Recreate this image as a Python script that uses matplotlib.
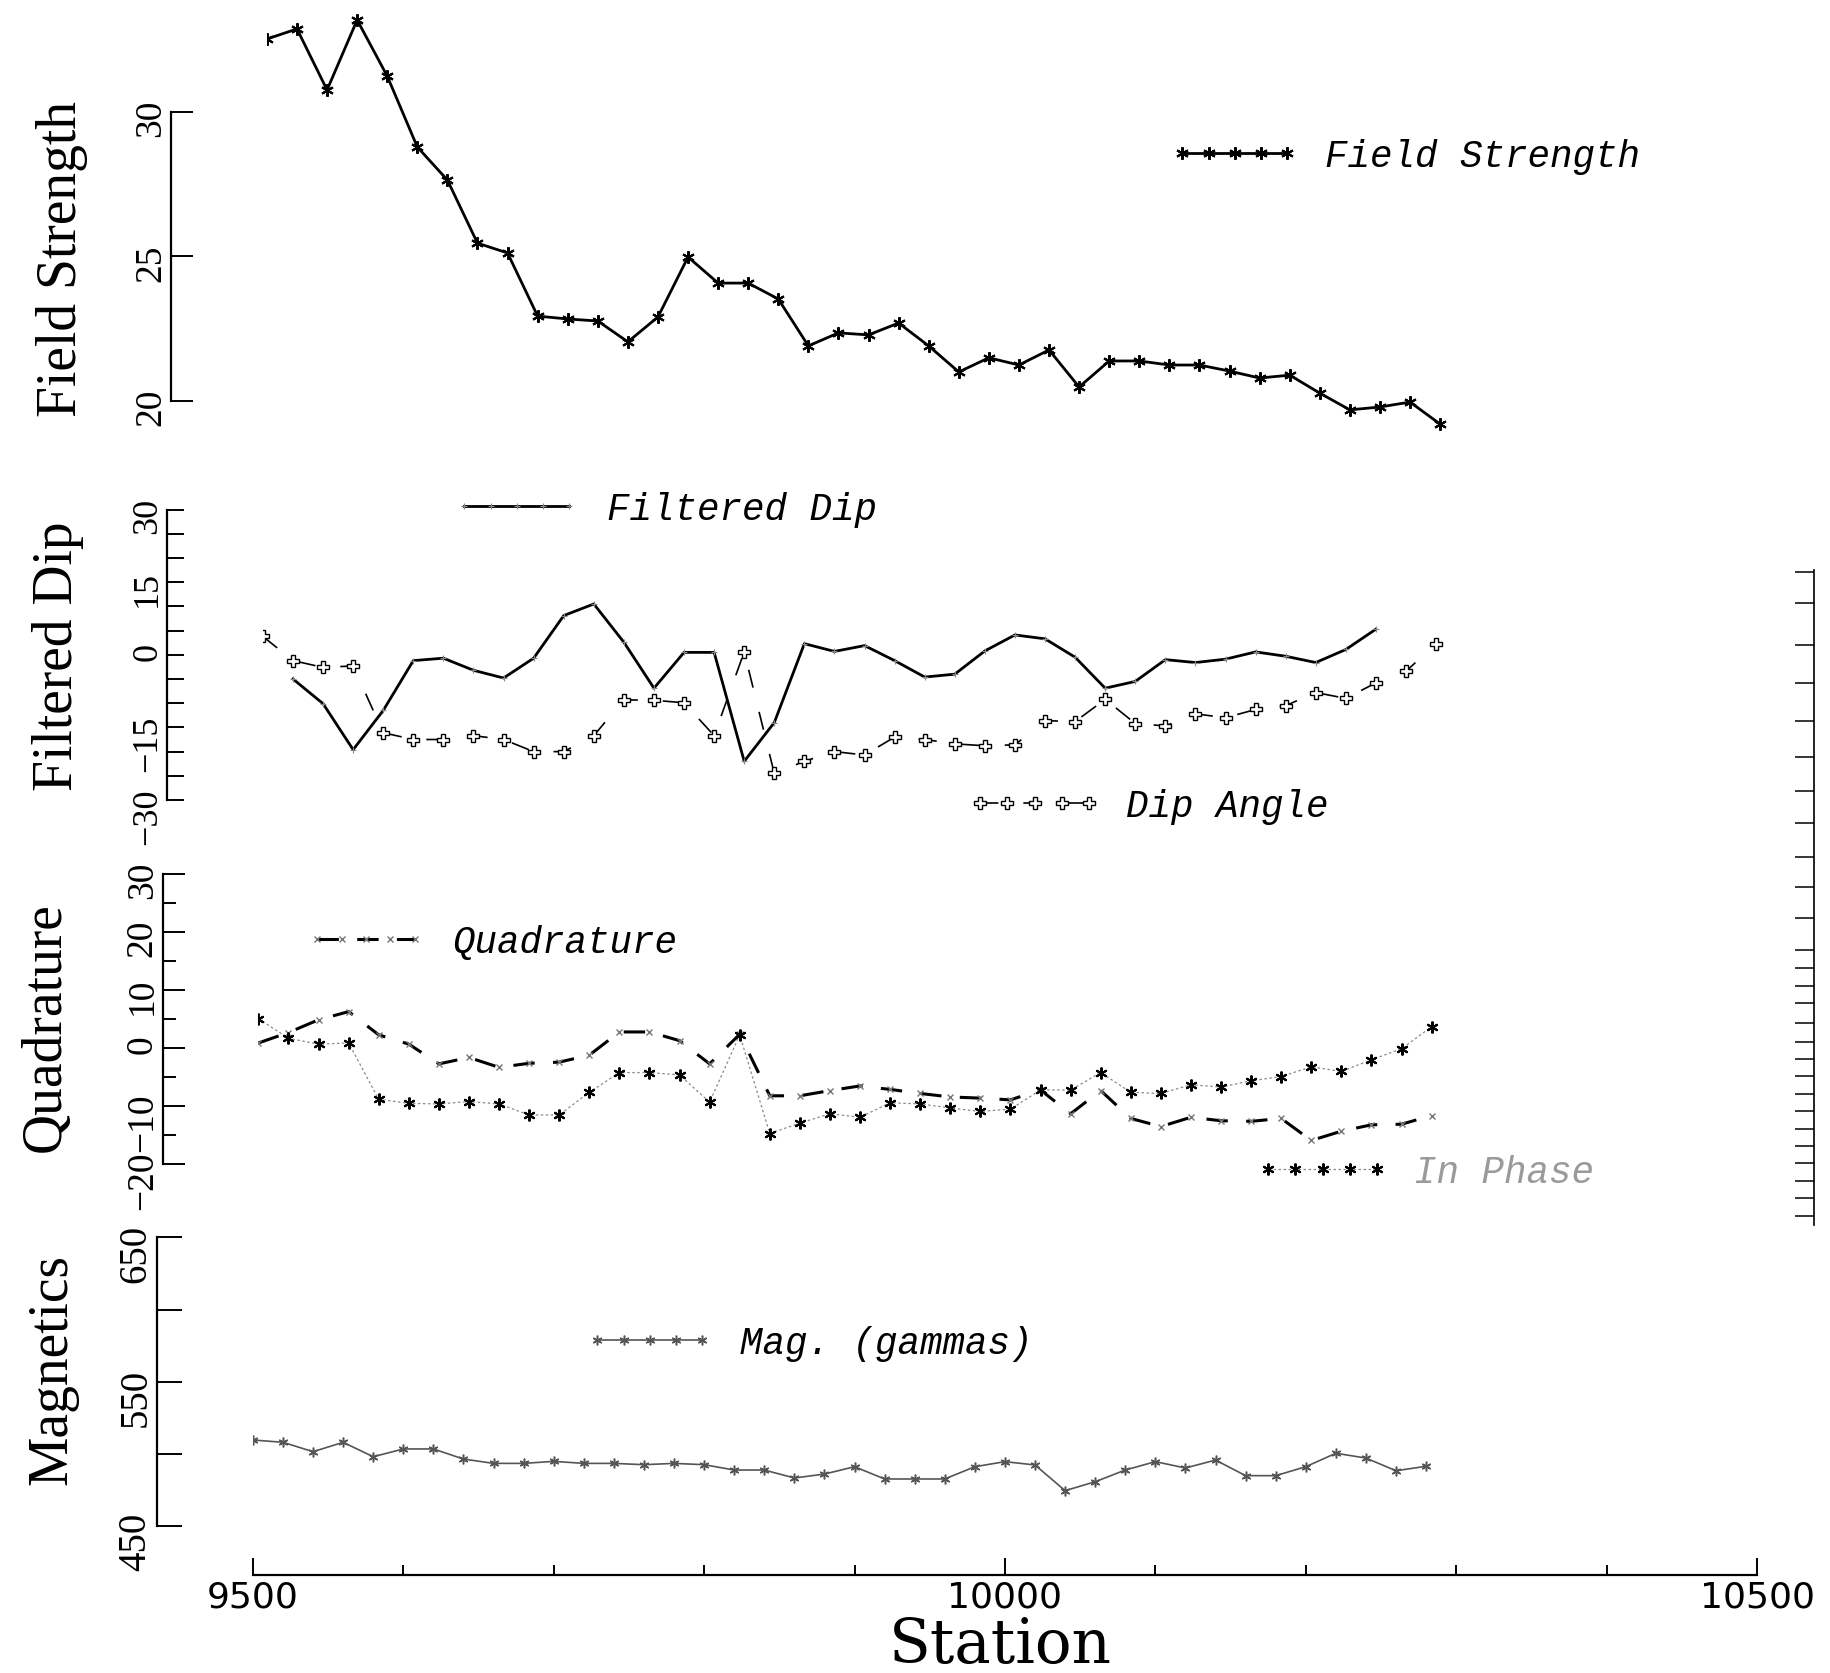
import numpy as np
import matplotlib
matplotlib.use("Agg")
import matplotlib.pyplot as plt
from matplotlib.ticker import MultipleLocator, FixedLocator

# ---- data (stations every 20 from 9500) ----
stations = np.arange(9500, 10300, 20)

field_strength = [32.51, 32.86, 30.75, 33.17, 31.23, 28.78, 27.64, 25.46, 25.12, 22.94,
                  22.84, 22.77, 22.05, 22.91, 24.98, 24.08, 24.08, 23.53, 21.91, 22.36,
                  22.29, 22.70, 21.91, 21.01, 21.50, 21.25, 21.77, 20.49, 21.39, 21.39,
                  21.25, 21.25, 21.04, 20.80, 20.90, 20.28, 19.70, 19.80, 19.97, 19.21]

# Fraser-filtered dip sits at stations 9520..10240
filtered_stations = stations[1:38]
filtered_dip = [-5.0, -10.1, -19.6, -11.5, -1.2, -0.7, -3.2, -4.8, -0.7, 8.1,
                10.5, 2.6, -6.9, 0.5, 0.5, -22.0, -14.0, 2.3, 0.7, 1.9,
                -1.2, -4.6, -4.0, 0.8, 4.1, 3.3, -0.5, -6.9, -5.5, -1.0,
                -1.6, -0.9, 0.6, -0.3, -1.6, 1.1, 5.3]

dip_angle = [3.8, -1.2, -2.6, -2.3, -16.1, -17.5, -17.5, -16.7, -17.5, -20.0,
             -20.0, -16.7, -9.3, -9.4, -9.9, -16.7, 0.6, -24.5, -22.0, -20.0,
             -20.7, -17.0, -17.5, -18.4, -18.8, -18.6, -13.6, -13.8, -9.2, -14.2,
             -14.7, -12.2, -13.0, -11.3, -10.5, -7.8, -9.0, -5.8, -3.4, 2.3]

quadrature = [0.8, 2.6, 4.8, 6.2, 2.2, 0.6, -2.8, -1.7, -3.4, -2.7,
              -2.5, -1.3, 2.7, 2.7, 1.2, -2.8, 2.3, -8.3, -8.3, -7.4,
              -6.6, -7.2, -7.9, -8.5, -8.7, -9.0, -7.3, -11.4, -7.4, -12.2,
              -13.6, -12.0, -12.6, -12.7, -12.2, -16.0, -14.4, -13.3, -13.2, -11.7]

in_phase = [5.0, 1.6, 0.6, 0.8, -8.9, -9.6, -9.7, -9.3, -9.7, -11.6,
            -11.6, -7.7, -4.3, -4.3, -4.7, -9.4, 2.2, -14.8, -13.0, -11.4,
            -12.0, -9.5, -9.7, -10.4, -11.0, -10.6, -7.3, -7.3, -4.3, -7.7,
            -7.9, -6.4, -6.8, -5.7, -5.0, -3.3, -4.1, -2.1, -0.2, 3.6]

magnetics = [509.7, 508.1, 501.6, 508.1, 498.1, 503.5, 503.5, 496.5, 493.5, 493.5,
             494.9, 493.5, 493.5, 492.6, 493.5, 492.6, 488.9, 488.9, 483.4, 486.1,
             491.2, 482.7, 482.7, 482.7, 491.2, 494.7, 492.4, 474.6, 480.8, 488.9,
             494.7, 490.3, 495.8, 485.0, 485.0, 491.2, 500.5, 497.2, 488.4, 491.5]

x_ticks_major = [9500, 10000, 10500]
mag_ticks_major = [450, 550, 650]
ruler_marks = [490, 516, 553, 585, 618, 649, 678, 706, 735, 761, 788, 815, 831, 846,
               861, 878, 894, 909, 924, 939, 954, 969, 984, 999, 1014, 1029, 1044]

# ---- layout (pixels of the 1830x1674 canvas) ----
W, H = 1830, 1674
X0, XSPAN = 252.9, 1504.1
serif = "Liberation Serif"
star = (6, 2, 0)

fig = plt.figure(figsize=(W / 100, H / 100), dpi=100)


def panel(shift, ylim, cal, labelsize=27):
    (v1, y1), (v2, y2) = cal
    k = (y2 - y1) / (v2 - v1)
    top = y1 + (ylim[1] - v1) * k
    bot = y1 + (ylim[0] - v1) * k
    ax = fig.add_axes([(X0 + shift) / W, 1 - bot / H, XSPAN / W, (bot - top) / H])
    ax.set_xlim(9500, 10500)
    ax.set_ylim(*ylim)
    ax.patch.set_alpha(0)
    for s in ("top", "right"):
        ax.spines[s].set_visible(False)
    ax.spines["left"].set_position(("outward", 69))
    ax.spines["left"].set_linewidth(1.6)
    ax.tick_params(axis="y", which="both", direction="in", width=1.4,
                   labelrotation=90, labelsize=labelsize, pad=2)
    return ax


def label(ax, text, x, y):
    ax.set_ylabel(text, family=serif, fontsize=40)
    ax.yaxis.set_label_coords(x / W, 1 - y / H, transform=fig.transFigure)


def legend(handle, text, x, y, hl, color="black"):
    lg = fig.legend(handles=[handle], labels=[text], loc="center left",
                    bbox_to_anchor=(x / W, 1 - y / H), frameon=False, numpoints=5,
                    handlelength=hl, handletextpad=0.7, borderpad=0, borderaxespad=0,
                    prop={"family": "Liberation Mono", "style": "italic", "size": 27})
    for t in lg.get_texts():
        t.set_color(color)


def no_x(ax):
    ax.spines["bottom"].set_visible(False)
    ax.tick_params(axis="x", which="both", bottom=False, labelbottom=False)


def serif_ticks(ax):
    for lab in ax.get_yticklabels():
        lab.set_family(serif)


# Field strength
ax1 = panel(14, (19, 33.6), ((30, 112.7), (20, 402.2)))
no_x(ax1)
ax1.spines["left"].set_bounds(20, 30)
ax1.yaxis.set_major_locator(FixedLocator([20, 25, 30]))
ax1.tick_params(axis="y", length=16)
fs_line, = ax1.plot(stations, field_strength, color="black", lw=2.0, marker=star,
                    ms=9, mew=1.5)
serif_ticks(ax1)
label(ax1, "Field Strength", 88, 259)
legend(fs_line, "Field Strength", 1171, 157, 3.4)

# Filtered dip / dip angle
ax2 = panel(10, (-31, 31), ((30, 510.6), (-30, 801.0)), labelsize=26)
no_x(ax2)
ax2.spines["left"].set_bounds(-30, 30)
ax2.yaxis.set_major_locator(FixedLocator([-30, -15, 0, 15, 30]))
ax2.yaxis.set_minor_locator(MultipleLocator(5))
ax2.tick_params(axis="y", which="both", length=12)
fd_line, = ax2.plot(filtered_stations, filtered_dip, color="black", lw=2.0,
                    marker="+", ms=4, mew=0.8, mec="#888888")
da_line, = ax2.plot(stations, dip_angle, color="black", lw=1.2, ls=(0, (11, 15)),
                    marker="P", ms=9, mfc="white", mec="black", mew=1.0)
serif_ticks(ax2)
label(ax2, "Filtered Dip", 84, 656)
legend(fd_line, "Filtered Dip", 453, 510, 3.4)
legend(da_line, "Dip Angle", 969, 807, 3.5)

# Quadrature / in phase
ax3 = panel(5.5, (-21, 31), ((30, 874.5), (-20, 1164.7)))
no_x(ax3)
ax3.spines["left"].set_bounds(-20, 30)
ax3.yaxis.set_major_locator(MultipleLocator(10))
ax3.yaxis.set_minor_locator(MultipleLocator(5))
ax3.tick_params(axis="y", which="major", length=16)
ax3.tick_params(axis="y", which="minor", length=9)
q_line, = ax3.plot(stations, quadrature, color="black", lw=2.2, ls=(0, (7, 6)),
                   marker="x", ms=5, mew=1.0, mec="#777777")
ip_line, = ax3.plot(stations, in_phase, color="#8a8a8a", lw=0.9, ls=(0, (2, 2)),
                    marker=star, ms=8.5, mew=1.5, mec="black")
serif_ticks(ax3)
label(ax3, "Quadrature", 72, 1027)
legend(q_line, "Quadrature", 306, 943, 3.2)
legend(ip_line, "In Phase", 1257, 1173, 3.5, color="#9a9a9a")

# Magnetics + station axis
ax4 = panel(0, (416, 655), ((650, 1238.4), (450, 1527.2)), labelsize=28)
ax4.spines["left"].set_bounds(450, 650)
ax4.spines["bottom"].set_linewidth(1.6)
ax4.yaxis.set_major_locator(FixedLocator(mag_ticks_major))
ax4.yaxis.set_minor_locator(MultipleLocator(50))
ax4.tick_params(axis="y", which="both", length=18)
mg_line, = ax4.plot(stations, magnetics, color="#555555", lw=1.2, marker=star,
                    ms=7, mew=1.1)
serif_ticks(ax4)
label(ax4, "Magnetics", 78, 1370)
legend(mg_line, "Mag. (gammas)", 586, 1344, 3.4)

ax4.xaxis.set_major_locator(FixedLocator(x_ticks_major))
ax4.xaxis.set_minor_locator(MultipleLocator(100))
ax4.tick_params(axis="x", which="major", direction="in", length=12, width=1.4,
                labelsize=26, pad=3)
ax4.tick_params(axis="x", which="minor", direction="in", length=7, width=1.4)
for lab in ax4.get_xticklabels():
    lab.set_family("DejaVu Sans")
ax4.set_xlabel("Station", family="DejaVu Serif", fontsize=44, labelpad=0)
ax4.xaxis.label.set_va("baseline")
ax4.xaxis.set_label_coords(1000 / W, 1 - 1663 / H, transform=fig.transFigure)

# edge of a neighbouring sheet's scale, caught by the scanner
ax5 = fig.add_axes([1800 / W, 1 - 1226 / H, 14 / W, 655 / H])
ax5.set_ylim(1052, 488)
ax5.patch.set_alpha(0)
for s in ("top", "bottom", "left"):
    ax5.spines[s].set_visible(False)
ax5.spines["right"].set_linewidth(1.2)
ax5.set_xticks([])
ax5.yaxis.tick_right()
ax5.yaxis.set_major_locator(FixedLocator(ruler_marks))
ax5.tick_params(axis="y", direction="in", length=14, width=1.1, labelright=False)

fig.savefig("out.png", dpi=100, facecolor="white")
